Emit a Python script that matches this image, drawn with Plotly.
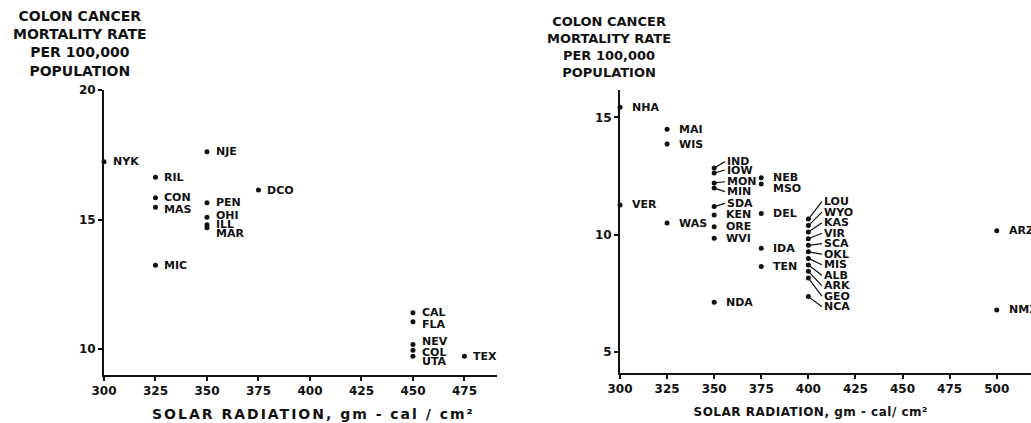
import plotly.graph_objects as go

# ---------------- data ----------------
left_states = ["NYK", "NJE", "RIL", "CON", "MAS", "DCO", "PEN", "OHI", "ILL", "MAR",
               "MIC", "CAL", "FLA", "NEV", "COL", "UTA", "TEX"]
left_x = [300, 350, 325, 325, 325, 375, 350, 350, 350, 350,
          325, 450, 450, 450, 450, 450, 475]
left_y = [17.23, 17.62, 16.63, 15.84, 15.47, 16.14, 15.65, 15.09, 14.80, 14.68,
          13.24, 11.40, 11.06, 10.18, 9.96, 9.72, 9.72]

right_states = ["NHA", "MAI", "WIS", "VER", "WAS",
                "IND", "IOW", "MON", "MIN", "SDA", "KEN", "ORE", "WVI", "NDA",
                "NEB", "MSO", "DEL", "IDA", "TEN",
                "LOU", "WYO", "KAS", "VIR", "SCA", "OKL", "MIS", "ALB", "ARK", "GEO", "NCA",
                "ARZ", "NMX"]
right_x = [300, 325, 325, 300, 325,
           350, 350, 350, 350, 350, 350, 350, 350, 350,
           375, 375, 375, 375, 375,
           400, 400, 400, 400, 400, 400, 400, 400, 400, 400, 400,
           500, 500]
right_y = [15.43, 14.49, 13.86, 11.26, 10.49,
           12.84, 12.62, 12.20, 11.98, 11.19, 10.83, 10.33, 9.84, 7.11,
           12.42, 12.15, 10.90, 9.41, 8.63,
           10.66, 10.38, 10.11, 9.82, 9.54, 9.26, 8.98, 8.70, 8.43, 8.14, 7.35,
           10.16, 6.78]

left_xticks = [300, 325, 350, 375, 400, 425, 450, 475]
left_yticks = [10, 15, 20]
right_xticks = [300, 325, 350, 375, 400, 425, 450, 475, 500]
right_yticks = [5, 10, 15]

y_title = "COLON CANCER<br>MORTALITY RATE<br>PER 100,000<br>POPULATION"

# ---------------- styling / layout ----------------
W, H = 1031, 423
FONT = "DejaVu Sans"
INK = "#111111"

# small vertical nudges (px, positive = up) for crowded plain labels
left_nudge = {"MAS": -2, "OHI": 2, "MAR": -6, "FLA": -3, "NEV": 3, "COL": -2, "UTA": -5}
right_nudge = {"MSO": -4, "KEN": 1}

# leader-line labels: text anchor (left edge) in data units of the right panel
leader = {}
for i, s in enumerate(["IND", "IOW", "MON", "MIN", "SDA"]):
    leader[s] = (355.7, [13.11, 12.75, 12.25, 11.83, 11.33][i])
for i, s in enumerate(["LOU", "WYO", "KAS", "VIR", "SCA", "OKL", "MIS", "ALB", "ARK", "GEO", "NCA"]):
    leader[s] = (407.2, 11.40 - i * 0.448)

fig = go.Figure()
fig.add_trace(go.Scatter(x=left_x, y=left_y, mode="markers", xaxis="x", yaxis="y",
                         marker=dict(color=INK, size=5), showlegend=False, hoverinfo="skip"))
fig.add_trace(go.Scatter(x=right_x, y=right_y, mode="markers", xaxis="x2", yaxis="y2",
                         marker=dict(color=INK, size=5), showlegend=False, hoverinfo="skip"))

lab_font = dict(family=FONT, size=11, color=INK, weight="bold")
ann = []
for s, x, y in zip(left_states, left_x, left_y):
    ann.append(dict(x=x, y=y, xref="x", yref="y", text=s, showarrow=False,
                    xanchor="left", yanchor="middle", xshift=7, yshift=left_nudge.get(s, 0),
                    font=lab_font))
for s, x, y in zip(right_states, right_x, right_y):
    if s in leader:
        ax, ay = leader[s]
        ann.append(dict(x=x, y=y, xref="x2", yref="y2", text=s, showarrow=True,
                        ax=ax, ay=ay, axref="x2", ayref="y2", arrowhead=0,
                        arrowwidth=1.2, arrowcolor=INK, xanchor="left", yanchor="middle",
                        font=lab_font))
    else:
        ann.append(dict(x=x, y=y, xref="x2", yref="y2", text=s, showarrow=False,
                        xanchor="left", yanchor="middle", xshift=10, yshift=right_nudge.get(s, 0),
                        font=lab_font))

ann.append(dict(x=80 / W, y=1 - 6 / H, xref="paper", yref="paper", text=y_title,
                showarrow=False, xanchor="center", yanchor="top", align="center",
                font=dict(family=FONT, size=14, color=INK, weight="bold")))
ann.append(dict(x=609 / W, y=1 - 12 / H, xref="paper", yref="paper", text=y_title,
                showarrow=False, xanchor="center", yanchor="top", align="center",
                font=dict(family=FONT, size=13, color=INK, weight="bold")))
idx_xl = len(ann)
ann.append(dict(x=313 / W, y=1 - 414 / H, xref="paper", yref="paper",
                text="SOLAR RADIATION, gm - cal / cm²", showarrow=False,
                xanchor="center", yanchor="middle", font=dict(family=FONT, size=14, color=INK, weight="bold")))
idx_xr = len(ann)
ann.append(dict(x=810 / W, y=1 - 412 / H, xref="paper", yref="paper",
                text="SOLAR RADIATION, gm - cal/ cm²", showarrow=False,
                xanchor="center", yanchor="middle", font=dict(family=FONT, size=12, color=INK, weight="bold")))

tick_font = dict(family=FONT, size=12, color=INK, weight="bold")
axis_common = dict(showgrid=False, zeroline=False, showline=True, linecolor=INK, linewidth=2,
                   ticks="outside", ticklen=4, tickwidth=1.5, tickcolor=INK, tickfont=tick_font,
                   fixedrange=True, automargin=False)

fig.update_layout(
    width=W, height=H, margin=dict(l=0, r=0, t=0, b=0, autoexpand=False),
    paper_bgcolor="white", plot_bgcolor="white",
    xaxis=dict(domain=[104 / W, 497 / W], range=[300, 490.8], tickvals=left_xticks,
               anchor="y", **axis_common),
    yaxis=dict(domain=[1 - 375 / H, 1 - 90 / H], range=[9.0, 20.0], tickvals=left_yticks,
               anchor="x", **axis_common),
    xaxis2=dict(domain=[620 / W, 1.0], range=[300, 518.2], tickvals=right_xticks,
                anchor="y2", **axis_common),
    yaxis2=dict(domain=[1 - 372.7 / H, 1 - 90 / H], range=[4.104, 16.165], tickvals=right_yticks,
                anchor="x2", **axis_common),
    annotations=ann,
)
fig.update_traces(cliponaxis=False)

# widen the letter-spaced axis captions like the typeset original
post = """
(function(){
  function sp(i, v){
    document.querySelectorAll('.annotation[data-index="' + i + '"] text').forEach(function(t){
      t.style.letterSpacing = v;
    });
  }
  sp(%d, '2px');
  sp(%d, '0.5px');
})();
""" % (idx_xl, idx_xr)

fig.write_html("out.html", post_script=post)
